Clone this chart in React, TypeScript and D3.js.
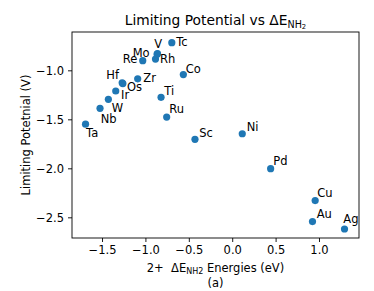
import React, { useEffect, useRef } from "react"
import * as d3 from "d3"

const metals = ["Ta", "Nb", "W", "Ir", "Os", "Hf", "Zr", "Re", "Rh", "V", "Mo", "Tc", "Co", "Ti", "Ru", "Sc", "Ni", "Pd", "Cu", "Au", "Ag"]
const deltaE = [-1.69, -1.523, -1.427, -1.342, -1.26, -1.268, -1.089, -1.031, -0.884, -0.861, -0.865, -0.696, -0.563, -0.82, -0.755, -0.429, 0.116, 0.443, 0.956, 0.925, 1.294]
const limitingPotential = [-1.55, -1.388, -1.296, -1.211, -1.135, -1.128, -1.087, -0.902, -0.885, -0.829, -0.835, -0.718, -1.043, -1.276, -1.477, -1.704, -1.647, -2.004, -2.329, -2.543, -2.619]

const xTicks = [-1.5, -1.0, -0.5, 0.0, 0.5, 1.0]
const yTicks = [-2.5, -2.0, -1.5, -1.0]

// label placement (pixels from the dot), like the annotate offsets
const labelOffset: Record<string, [number, number, string]> = {
  Ta: [0.5, 12.5, "start"],
  Nb: [0.7, 14.4, "start"],
  W: [3.4, 12.4, "start"],
  Ir: [5.3, 8.3, "start"],
  Os: [4.2, 7.9, "start"],
  Hf: [-3.2, -4, "end"],
  Zr: [5.6, 3.5, "start"],
  Re: [-5.4, 2.6, "end"],
  Rh: [4.5, 4.3, "start"],
  V: [-3.2, -5.2, "start"],
  Mo: [-7.5, 3.2, "end"],
  Tc: [4.5, 3.5, "start"],
  Co: [2.4, -1.8, "start"],
  Ti: [3.3, -2.3, "start"],
  Ru: [2.6, -4.3, "start"],
  Sc: [4.3, -2.6, "start"],
  Ni: [4.4, -3, "start"],
  Pd: [2.6, -3.7, "start"],
  Cu: [2.1, -3.8, "start"],
  Au: [4.2, -3.8, "start"],
  Ag: [-1.2, -6.3, "start"],
}

const W = 374
const H = 291
const margin = { top: 32, right: 15, bottom: 53, left: 72 }
const FONT = "DejaVu Sans, sans-serif"

export default function App() {
  const ref = useRef<SVGSVGElement>(null)

  useEffect(() => {
    if (!ref.current) return
    const svg = d3.select(ref.current)
    svg.selectAll("*").remove()

    const x = d3.scaleLinear().domain([-1.846, 1.461]).range([margin.left, W - margin.right])
    const y = d3.scaleLinear().domain([-2.711, -0.609]).range([H - margin.bottom, margin.top])

    const data = metals.map((m, i) => ({ name: m, x: deltaE[i], y: limitingPotential[i] }))

    // x axis
    svg
      .append("g")
      .attr("transform", `translate(0,${H - margin.bottom})`)
      .call(d3.axisBottom(x).tickValues(xTicks).tickFormat(d3.format(".1f")).tickSize(4).tickPadding(4).tickSizeOuter(0))
      .call((g) => g.select(".domain").remove())
      .call((g) => g.selectAll("line").attr("stroke", "#000").attr("stroke-width", 0.9))
      .call((g) => g.selectAll("text").attr("font-family", FONT).attr("font-size", 11.5).attr("fill", "#000"))

    // y axis
    svg
      .append("g")
      .attr("transform", `translate(${margin.left},0)`)
      .call(d3.axisLeft(y).tickValues(yTicks).tickFormat(d3.format(".1f")).tickSize(4).tickPadding(4).tickSizeOuter(0))
      .call((g) => g.select(".domain").remove())
      .call((g) => g.selectAll("line").attr("stroke", "#000").attr("stroke-width", 0.9))
      .call((g) => g.selectAll("text").attr("font-family", FONT).attr("font-size", 11.5).attr("fill", "#000"))

    // frame
    svg
      .append("rect")
      .attr("x", margin.left)
      .attr("y", margin.top)
      .attr("width", W - margin.left - margin.right)
      .attr("height", H - margin.top - margin.bottom)
      .attr("fill", "none")
      .attr("stroke", "#000")
      .attr("stroke-width", 0.9)

    const plot = svg.append("g")

    plot
      .selectAll("circle")
      .data(data)
      .enter()
      .append("circle")
      .attr("cx", (d) => x(d.x))
      .attr("cy", (d) => y(d.y))
      .attr("r", 3.6)
      .attr("fill", "#1f77b4")

    plot
      .selectAll("text")
      .data(data)
      .enter()
      .append("text")
      .attr("x", (d) => x(d.x) + labelOffset[d.name][0])
      .attr("y", (d) => y(d.y) + labelOffset[d.name][1])
      .attr("text-anchor", (d) => labelOffset[d.name][2])
      .attr("font-family", FONT)
      .attr("font-size", 11.5)
      .attr("fill", "#000")
      .text((d) => d.name)

    const cx = (margin.left + W - margin.right) / 2

    // title
    const title = svg
      .append("text")
      .attr("x", cx)
      .attr("y", 25)
      .attr("text-anchor", "middle")
      .attr("font-family", FONT)
      .attr("font-size", 13.8)
      .attr("fill", "#000")
    title.append("tspan").text("Limiting Potential vs ΔE")
    title.append("tspan").attr("font-size", 9.6).attr("dy", 2.5).text("NH")
    title.append("tspan").attr("font-size", 6.8).attr("dy", 1.5).text("2")

    // x label, two lines
    const xl = svg
      .append("text")
      .attr("x", cx)
      .attr("y", 271.5)
      .attr("text-anchor", "middle")
      .attr("font-family", FONT)
      .attr("font-size", 11.5)
      .attr("fill", "#000")
    xl.append("tspan").text("2+\u00a0 ΔE")
    xl.append("tspan").attr("font-size", 8).attr("dy", 2.5).text("NH2")
    xl.append("tspan").attr("dy", -2.5).text("\u00a0Energies (eV)")

    svg
      .append("text")
      .attr("x", cx)
      .attr("y", 286.5)
      .attr("text-anchor", "middle")
      .attr("font-family", FONT)
      .attr("font-size", 11.5)
      .attr("fill", "#000")
      .text("(a)")

    // y label
    svg
      .append("text")
      .attr("transform", `translate(29.5,${(margin.top + H - margin.bottom) / 2}) rotate(-90)`)
      .attr("text-anchor", "middle")
      .attr("font-family", FONT)
      .attr("font-size", 11.5)
      .attr("fill", "#000")
      .text("Limiting Potetnial (V)")
  }, [])

  return (
    <svg
      ref={ref}
      width={W}
      height={H}
      style={{ position: "absolute", left: 0, top: 0, background: "#fff" }}
    />
  )
}
